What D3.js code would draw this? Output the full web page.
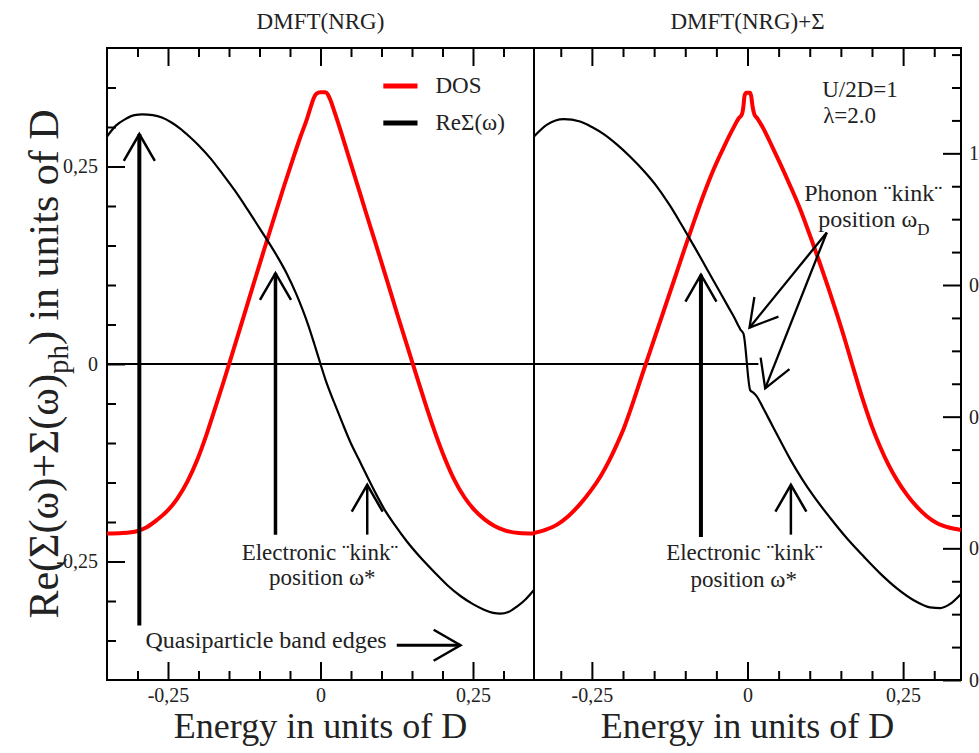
<!DOCTYPE html>
<html><head><meta charset="utf-8">
<script src="https://cdn.jsdelivr.net/npm/d3@7"></script>
<style>
body{margin:0;background:#fff}
svg{display:block}
text{font-family:"Liberation Serif","Times New Roman",serif;fill:#222}
</style>
</head><body>
<svg id="c" width="979" height="753"></svg>
<script>
// ---------------- DATA ----------------
const panelTitles = ["DMFT(NRG)", "DMFT(NRG)+Σ"];
const xAxisTitle = "Energy in units of D";
const xMajorTicks = [-0.25, 0, 0.25];
const xMinorTicks = [-0.3, -0.2, -0.15, -0.1, -0.05, 0.05, 0.1, 0.15, 0.2, 0.3];
const yMajorTicks = [-0.25, 0, 0.25];
const yMinorTicks = [-0.35, -0.3, -0.2, -0.15, -0.1, -0.05, 0.05, 0.1, 0.15, 0.2, 0.3, 0.35];
const dosMajorTicks = [0, 0.25, 0.5, 0.75, 1];
const dosMinorTicks = [0.0625, 0.125, 0.1875, 0.3125, 0.375, 0.4375, 0.5625, 0.625, 0.6875,
                       0.8125, 0.875, 0.9375, 1.0625, 1.125, 1.1875];

// left panel: DMFT(NRG)  [omega, DOS]
const dosLeft = [
 [-0.35,0.278],[-0.325,0.279],[-0.30,0.283],[-0.285,0.290],[-0.268,0.304],[-0.252,0.320],
 [-0.235,0.344],[-0.218,0.377],[-0.202,0.418],[-0.188,0.462],[-0.175,0.508],[-0.160,0.562],
 [-0.148,0.607],[-0.126,0.690],[-0.110,0.751],[-0.093,0.815],[-0.076,0.878],[-0.060,0.937],
 [-0.045,0.990],[-0.033,1.031],[-0.022,1.066],[-0.016,1.088],[-0.011,1.105],[-0.007,1.113],
 [0.0,1.116],[0.008,1.116],[0.012,1.112],[0.016,1.102],[0.022,1.082],[0.033,1.043],
 [0.045,0.998],[0.060,0.942],[0.076,0.882],[0.093,0.819],[0.110,0.755],[0.126,0.694],
 [0.150,0.605],[0.162,0.561],[0.176,0.510],[0.189,0.466],[0.203,0.423],[0.219,0.381],
 [0.236,0.347],[0.253,0.322],[0.269,0.305],[0.286,0.292],[0.30,0.285],[0.325,0.279],[0.35,0.278]
];
// left panel  [omega, Re Sigma]
const sigmaLeft = [
 [-0.35,0.288],[-0.335,0.302],[-0.32,0.310],[-0.305,0.315],[-0.292,0.316],[-0.275,0.315],
 [-0.26,0.312],[-0.245,0.306],[-0.23,0.298],[-0.215,0.288],[-0.20,0.277],[-0.18,0.260],
 [-0.16,0.240],[-0.14,0.219],[-0.12,0.196],[-0.10,0.172],[-0.085,0.154],[-0.07,0.135],
 [-0.055,0.114],[-0.04,0.089],[-0.03,0.070],[-0.02,0.049],[-0.01,0.025],[0.0,0.0],
 [0.01,-0.024],[0.022,-0.048],[0.035,-0.073],[0.049,-0.099],[0.063,-0.121],[0.077,-0.143],
 [0.090,-0.163],[0.104,-0.183],[0.122,-0.204],[0.142,-0.225],[0.164,-0.245],[0.186,-0.263],
 [0.208,-0.280],[0.230,-0.294],[0.250,-0.304],[0.268,-0.311],[0.283,-0.315],[0.295,-0.316],
 [0.308,-0.314],[0.322,-0.307],[0.336,-0.298],[0.35,-0.286]
];
// right panel: DMFT(NRG)+Sigma_ph  [omega, DOS]
const dosRight = [
 [-0.343,0.279],[-0.325,0.285],[-0.306,0.295],[-0.288,0.311],[-0.269,0.334],[-0.252,0.359],
 [-0.236,0.387],[-0.222,0.417],[-0.210,0.447],[-0.198,0.480],[-0.188,0.513],[-0.166,0.591],
 [-0.150,0.647],[-0.134,0.703],[-0.118,0.759],[-0.103,0.812],[-0.087,0.867],[-0.071,0.920],
 [-0.055,0.968],[-0.038,1.012],[-0.025,1.043],[-0.0144,1.066],[-0.009,1.074],[-0.0065,1.090],
 [-0.0048,1.109],[-0.002,1.115],[0.004,1.115],[0.006,1.108],[0.008,1.090],[0.011,1.074],
 [0.016,1.066],[0.026,1.046],[0.040,1.012],[0.052,0.982],[0.068,0.940],[0.085,0.893],
 [0.101,0.842],[0.117,0.789],[0.130,0.744],[0.143,0.697],[0.156,0.648],[0.168,0.600],
 [0.187,0.526],[0.200,0.481],[0.213,0.443],[0.226,0.410],[0.240,0.380],[0.256,0.352],
 [0.272,0.329],[0.288,0.311],[0.304,0.298],[0.325,0.289],[0.343,0.285]
];
// right panel  [omega, Re Sigma + Re Sigma_ph]
const sigmaRight = [
 [-0.343,0.288],[-0.322,0.303],[-0.295,0.310],[-0.269,0.307],[-0.25,0.300],[-0.231,0.291],
 [-0.21,0.278],[-0.188,0.262],[-0.165,0.243],[-0.145,0.224],[-0.125,0.201],[-0.105,0.175],
 [-0.085,0.148],[-0.065,0.120],[-0.045,0.092],[-0.03,0.071],[-0.02,0.057],[-0.0144,0.048],
 [-0.0117,0.044],[-0.0064,0.038],[0.0043,-0.033],[0.009,-0.036],[0.014,-0.040],
 [0.026,-0.057],[0.036,-0.072],[0.050,-0.093],[0.069,-0.121],[0.088,-0.146],[0.106,-0.167],
 [0.133,-0.195],[0.160,-0.221],[0.187,-0.244],[0.213,-0.265],[0.24,-0.284],[0.267,-0.299],
 [0.293,-0.308],[0.31,-0.309],[0.325,-0.304],[0.343,-0.291]
];
// annotation arrows (data units): vertical ones [omega, from, to, strokeWidth]
const vArrowsLeft  = [[-0.297,-0.331,0.291,4],[-0.0738,-0.216,0.115,3.5],[0.0766,-0.216,-0.153,2.5]];
const vArrowsRight = [[-0.0748,-0.219,0.113,4],[0.0697,-0.216,-0.153,2.5]];
const bandEdgeArrow = [0.125, 0.2295, -0.356];          // from omega, to omega, level
const phononArrows  = [[0.1274,0.1665,0.0032,0.046],[0.1274,0.1665,0.0284,-0.0308]];
const zeroLineEndRight = 0.0175;

// ---------------- LAYOUT ----------------
const svg = d3.select("#c");
const yTop = 48, yBot = 680;
const xL = d3.scaleLinear().domain([-0.35, 0.35]).range([107, 534]);
const xR = d3.scaleLinear().domain([-0.343, 0.343]).range([534, 961]);
const yS = d3.scaleLinear().domain([-0.4, 0.4]).range([yBot, yTop]);
const yD = d3.scaleLinear().domain([0, 1.2]).range([yBot, yTop]);
const fmt = d => d === 0 ? "0" : String(d).replace(".", ",");
const FONT = '"Liberation Serif","Times New Roman",serif';

function axis(gen, tr) {
  const g = svg.append("g").attr("transform", tr).call(gen);
  g.select(".domain").remove();
  g.attr("font-family", FONT).attr("font-size", 20);
  g.selectAll(".tick line").attr("stroke", "#000").attr("stroke-width", 2);
  g.selectAll(".tick text").attr("fill", "#222");
  return g;
}
[xL, xR].forEach(x => {
  axis(d3.axisBottom(x).tickValues(xMinorTicks).tickSize(-9).tickFormat(""), `translate(0,${yBot})`);
  axis(d3.axisBottom(x).tickValues(xMajorTicks).tickSize(-18).tickPadding(8).tickFormat(fmt), `translate(0,${yBot})`);
  axis(d3.axisTop(x).tickValues(xMinorTicks).tickSize(-9).tickFormat(""), `translate(0,${yTop})`);
  axis(d3.axisTop(x).tickValues(xMajorTicks).tickSize(-18).tickFormat(""), `translate(0,${yTop})`);
});
axis(d3.axisLeft(yS).tickValues(yMinorTicks).tickSize(-9).tickFormat(""), `translate(107,0)`);
axis(d3.axisLeft(yS).tickValues(yMajorTicks).tickSize(-18).tickPadding(9).tickFormat(fmt), `translate(107,0)`);
axis(d3.axisRight(yD).tickValues(dosMinorTicks).tickSize(-9).tickFormat(""), `translate(961,0)`);
axis(d3.axisRight(yD).tickValues(dosMajorTicks).tickSize(-18).tickPadding(8).tickFormat(fmt), `translate(961,0)`);

svg.append("rect").attr("x", 107).attr("y", yTop).attr("width", 961 - 107).attr("height", yBot - yTop)
  .attr("fill", "none").attr("stroke", "#000").attr("stroke-width", 2);
svg.append("line").attr("x1", xL.range()[1]).attr("x2", xL.range()[1]).attr("y1", yTop).attr("y2", yBot)
  .attr("stroke", "#000").attr("stroke-width", 2);

svg.append("line").attr("x1", xL(-0.35)).attr("x2", xL(0.35)).attr("y1", yS(0)).attr("y2", yS(0))
  .attr("stroke", "#000").attr("stroke-width", 2);
svg.append("line").attr("x1", xR(-0.343)).attr("x2", xR(zeroLineEndRight)).attr("y1", yS(0)).attr("y2", yS(0))
  .attr("stroke", "#000").attr("stroke-width", 2);

function curve(data, x, y, color, w) {
  svg.append("path").datum(data)
    .attr("d", d3.line().x(d => x(d[0])).y(d => y(d[1])).curve(d3.curveMonotoneX))
    .attr("fill", "none").attr("stroke", color).attr("stroke-width", w).attr("stroke-linejoin", "round");
}
curve(dosLeft, xL, yD, "#ff0000", 4);
curve(sigmaLeft, xL, yS, "#000", 2.2);
curve(dosRight, xR, yD, "#ff0000", 4);
curve(sigmaRight, xR, yS, "#000", 2.2);

function head(tx, ty, fx, fy, w) {
  const a = Math.atan2(fy - ty, fx - tx), L = 31, h = Math.PI / 6;
  const p1 = [tx + L * Math.cos(a - h), ty + L * Math.sin(a - h)];
  const p2 = [tx + L * Math.cos(a + h), ty + L * Math.sin(a + h)];
  svg.append("path").attr("d", `M${p1}L${tx},${ty}L${p2}`)
    .attr("fill", "none").attr("stroke", "#000").attr("stroke-width", w).attr("stroke-linejoin", "miter");
}
function arrow(x1, y1, x2, y2, w, hw) {
  svg.append("line").attr("x1", x1).attr("y1", y1).attr("x2", x2).attr("y2", y2)
    .attr("stroke", "#000").attr("stroke-width", w);
  head(x2, y2, x1, y1, hw);
}
vArrowsLeft.forEach(a => arrow(xL(a[0]), yS(a[1]), xL(a[0]), yS(a[2]), a[3], 2.5));
vArrowsRight.forEach(a => arrow(xR(a[0]), yS(a[1]), xR(a[0]), yS(a[2]), a[3], 2.5));
arrow(xL(bandEdgeArrow[0]), yS(bandEdgeArrow[2]), xL(bandEdgeArrow[1]), yS(bandEdgeArrow[2]), 3, 2.5);
phononArrows.forEach(a => arrow(xR(a[0]), yS(a[1]), xR(a[2]), yS(a[3]), 2.3, 2.3));

function txt(x, y, s, size, anchor) {
  return svg.append("text").attr("x", x).attr("y", y).attr("font-size", size)
    .attr("text-anchor", anchor || "start").text(s);
}
txt(xL(0), 29, panelTitles[0], 23, "middle");
txt(xR(0), 29, panelTitles[1], 23, "middle");
txt(xL(0), 738, xAxisTitle, 36, "middle");
txt(xR(0), 738, xAxisTitle, 36, "middle");
const yt = svg.append("text").attr("transform", `translate(58,${yS(0)}) rotate(-90)`)
  .attr("text-anchor", "middle").attr("font-size", 42);
yt.append("tspan").text("Re(Σ(ω)+Σ(ω)");
yt.append("tspan").attr("font-size", 29).attr("dy", 10).text("ph");
yt.append("tspan").attr("dy", -10).text(") in units of D");

svg.append("line").attr("x1", xL(0.103)).attr("x2", xL(0.159)).attr("y1", yS(0.352)).attr("y2", yS(0.352))
  .attr("stroke", "#ff0000").attr("stroke-width", 5);
svg.append("line").attr("x1", xL(0.103)).attr("x2", xL(0.159)).attr("y1", yS(0.305)).attr("y2", yS(0.305))
  .attr("stroke", "#000").attr("stroke-width", 5);
txt(xL(0.1885), yS(0.343), "DOS", 23);
txt(xL(0.1885), yS(0.296), "ReΣ(ω)", 23);

txt(xL(-0.001), yS(-0.248), "Electronic ¨kink¨", 23, "middle");
txt(xL(0.003), yS(-0.28), "position ω*", 23, "middle");
txt(xL(-0.287), yS(-0.3595), "Quasiparticle band edges", 24);
txt(xR(0.12), yS(0.338), "U/2D=1", 23);
txt(xR(0.1215), yS(0.305), "λ=2.0", 23);
txt(xR(0.091), yS(0.206), "Phonon ¨kink¨", 24);
const pd = txt(xR(0.1135), yS(0.174), "position ω", 24);
pd.append("tspan").attr("font-size", 17).attr("dy", 8).text("D");
txt(xR(-0.005), yS(-0.248), "Electronic ¨kink¨", 23, "middle");
txt(xR(-0.006), yS(-0.282), "position ω*", 23, "middle");
</script>
</body></html>
